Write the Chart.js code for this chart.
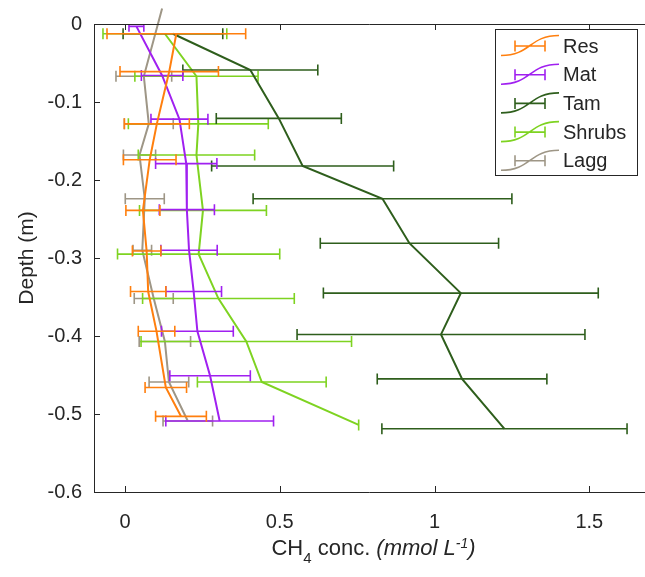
<!DOCTYPE html>
<html>
<head>
<meta charset="utf-8">
<script src="https://cdn.jsdelivr.net/npm/chart.js@4.4.0/dist/chart.umd.min.js"></script>
<style>
  body { margin: 0; background: #fff; }
  #wrap { width: 645px; height: 577px; }
</style>
</head>
<body>
<div id="wrap"><canvas id="ch4Chart" width="645" height="577"></canvas></div>
<script>
// tick labels
var xTicks = [0, 0.5, 1, 1.5];
var yTicks = [0, -0.1, -0.2, -0.3, -0.4, -0.5, -0.6];

var seriesNames = ['Res', 'Mat', 'Tam', 'Shrubs', 'Lagg'];
var seriesColors = ['#ff7f0e', '#a020f0', '#2e5e1c', '#7ed321', '#9e9686'];

// depth (m), mean conc. and error half-width
var resDepth = [-0.0125, -0.061, -0.128, -0.174, -0.239, -0.291, -0.343, -0.394, -0.466, -0.503];
var resConc  = [0.166, 0.143, 0.103, 0.080, 0.058, 0.070, 0.075, 0.102, 0.132, 0.181];
var resErr   = [0.224, 0.159, 0.105, 0.085, 0.055, 0.046, 0.057, 0.059, 0.067, 0.082];

var matDepth = [-0.003, -0.066, -0.122, -0.179, -0.238, -0.290, -0.343, -0.394, -0.451, -0.509];
var matConc  = [0.037, 0.120, 0.176, 0.198, 0.200, 0.207, 0.222, 0.234, 0.275, 0.306];
var matErr   = [0.024, 0.067, 0.092, 0.099, 0.089, 0.091, 0.090, 0.116, 0.130, 0.174];

var tamDepth = [-0.0125, -0.059, -0.121, -0.182, -0.224, -0.281, -0.345, -0.398, -0.455, -0.519];
var tamConc  = [0.155, 0.405, 0.497, 0.574, 0.832, 0.919, 1.085, 1.021, 1.089, 1.226];
var tamErr   = [0.161, 0.218, 0.202, 0.294, 0.418, 0.288, 0.444, 0.465, 0.274, 0.396];

var shrubsDepth = [-0.0125, -0.067, -0.128, -0.168, -0.239, -0.295, -0.352, -0.407, -0.459, -0.514];
var shrubsConc  = [0.129, 0.231, 0.237, 0.231, 0.252, 0.238, 0.302, 0.392, 0.442, 0.755];
var shrubsErr   = [0.200, 0.199, 0.226, 0.188, 0.205, 0.262, 0.245, 0.340, 0.208, 0];

var laggDepth = [0.02, -0.067, -0.128, -0.168, -0.224, -0.290, -0.352, -0.407, -0.459, -0.509];
var laggConc  = [0.120, 0.061, 0.077, 0.047, 0.064, 0.056, 0.093, 0.129, 0.142, 0.203];
var laggErr   = [0.05, 0.090, 0.079, 0.052, 0.063, 0.030, 0.063, 0.083, 0.064, 0.080];

var allDepth = [resDepth, matDepth, tamDepth, shrubsDepth, laggDepth];
var allConc = [resConc, matConc, tamConc, shrubsConc, laggConc];
var allErr = [resErr, matErr, tamErr, shrubsErr, laggErr];

var axisColor = '#262626';
var fontFam = '"Liberation Sans", Arial, Helvetica, sans-serif';

function makeDataset(i) {
    return {
        label: seriesNames[i],
        data: allConc[i].map(function(c, k) { return { x: c, y: allDepth[i][k] }; }),
        errors: allErr[i],
        borderColor: seriesColors[i],
        backgroundColor: seriesColors[i],
        borderWidth: 2,
        pointRadius: 0,
        showLine: true,
        tension: 0,
        clip: false
    };
}

// horizontal error bars, drawn with each series so the layering matches
var errorBars = {
    id: 'errorBars',
    afterDatasetDraw: function(chart, args) {
        var ds = chart.data.datasets[args.index];
        var xs = chart.scales.x, ys = chart.scales.y, a = chart.chartArea;
        var ctx = chart.ctx;
        ctx.save();
        ctx.beginPath();
        ctx.rect(a.left, a.top, a.right - a.left, a.bottom - a.top);
        ctx.clip();
        ctx.strokeStyle = ds.borderColor;
        ctx.lineWidth = 1.6;
        ctx.beginPath();
        ds.data.forEach(function(p, k) {
            var e = ds.errors[k];
            var py = ys.getPixelForValue(p.y);
            var x1 = xs.getPixelForValue(p.x - e);
            var x2 = xs.getPixelForValue(p.x + e);
            ctx.moveTo(x1, py); ctx.lineTo(x2, py);
            ctx.moveTo(x1, py - 5.5); ctx.lineTo(x1, py + 5.5);
            ctx.moveTo(x2, py - 5.5); ctx.lineTo(x2, py + 5.5);
        });
        ctx.stroke();
        ctx.restore();
    }
};

// box around the axes with inward ticks, x label, legend
var decorations = {
    id: 'decorations',
    afterDraw: function(chart) {
        var ctx = chart.ctx, a = chart.chartArea;
        var xs = chart.scales.x, ys = chart.scales.y;
        ctx.save();
        ctx.strokeStyle = axisColor;
        ctx.lineWidth = 1;
        ctx.beginPath();
        ctx.moveTo(a.left + 0.5, a.top + 0.5);
        ctx.lineTo(a.right, a.top + 0.5);
        ctx.moveTo(a.left + 0.5, a.top);
        ctx.lineTo(a.left + 0.5, a.bottom + 0.5);
        ctx.lineTo(a.right, a.bottom + 0.5);
        xs.ticks.forEach(function(t) {
            var px = Math.round(xs.getPixelForValue(t.value)) + 0.5;
            ctx.moveTo(px, a.bottom); ctx.lineTo(px, a.bottom - 6);
            ctx.moveTo(px, a.top); ctx.lineTo(px, a.top + 6);
        });
        ys.ticks.forEach(function(t) {
            var py = Math.round(ys.getPixelForValue(t.value)) + 0.5;
            ctx.moveTo(a.left, py); ctx.lineTo(a.left + 6, py);
        });
        ctx.stroke();

        // x axis label: CH4 conc. (mmol L-1)
        var parts = [
            { t: 'CH', f: '22px ' + fontFam, dy: 0 },
            { t: '4', f: '15px ' + fontFam, dy: 8 },
            { t: ' conc. ', f: '22px ' + fontFam, dy: 0 },
            { t: '(mmol L', f: 'italic 22px ' + fontFam, dy: 0 },
            { t: '-1', f: 'italic 14px ' + fontFam, dy: -7 },
            { t: ')', f: 'italic 22px ' + fontFam, dy: 0 }
        ];
        var total = 0;
        parts.forEach(function(p) { ctx.font = p.f; p.w = ctx.measureText(p.t).width; total += p.w; });
        var cx = (a.left + a.right) / 2 + 4;
        var tx = cx - total / 2, base = 555;
        ctx.fillStyle = axisColor;
        ctx.textBaseline = 'alphabetic';
        ctx.textAlign = 'left';
        parts.forEach(function(p) {
            ctx.font = p.f;
            ctx.fillText(p.t, tx, base + p.dy);
            tx += p.w;
        });

        // legend
        var lx = 495.5, ly = 29.5, lw = 142, lh = 146;
        ctx.fillStyle = '#fff';
        ctx.fillRect(lx, ly, lw, lh);
        ctx.strokeStyle = axisColor;
        ctx.lineWidth = 1;
        ctx.strokeRect(lx, ly, lw, lh);
        chart.data.datasets.forEach(function(ds, i) {
            var yc = 47 + i * 28.7;
            ctx.strokeStyle = ds.borderColor;
            ctx.lineWidth = 1.6;
            ctx.beginPath();
            ctx.moveTo(501, yc + 8.5);
            ctx.bezierCurveTo(531, yc + 8.5, 529, yc - 11.5, 559, yc - 11.5);
            ctx.moveTo(515, yc - 1); ctx.lineTo(545, yc - 1);
            ctx.moveTo(515, yc - 6.5); ctx.lineTo(515, yc + 4.5);
            ctx.moveTo(545, yc - 6.5); ctx.lineTo(545, yc + 4.5);
            ctx.stroke();
            ctx.fillStyle = axisColor;
            ctx.font = '20px ' + fontFam;
            ctx.textBaseline = 'middle';
            ctx.fillText(ds.label, 563, yc);
        });
        ctx.restore();
    }
};

var ctx = document.getElementById('ch4Chart').getContext('2d');
var chart = new Chart(ctx, {
    type: 'scatter',
    data: {
        datasets: [0, 1, 2, 3, 4].map(makeDataset)
    },
    options: {
        responsive: false,
        animation: false,
        devicePixelRatio: 1,
        layout: { padding: { top: 13, right: 0, bottom: 0, left: 0 } },
        plugins: {
            legend: { display: false },
            tooltip: { enabled: false }
        },
        scales: {
            x: {
                type: 'linear',
                min: -0.1,
                max: 1.68,
                afterBuildTicks: function(s) { s.ticks = xTicks.map(function(v) { return { value: v }; }); },
                afterFit: function(s) { s.height = 85; },
                grid: { display: false, drawTicks: false },
                border: { display: false },
                ticks: {
                    color: axisColor,
                    padding: 18,
                    autoSkip: false,
                    maxRotation: 0,
                    font: { family: fontFam, size: 20 },
                    callback: function(v) { return String(v); }
                }
            },
            y: {
                type: 'linear',
                min: -0.6,
                max: 0,
                afterBuildTicks: function(s) { s.ticks = yTicks.map(function(v) { return { value: v }; }); },
                afterFit: function(s) { s.width = 94; },
                grid: { display: false, drawTicks: false },
                border: { display: false },
                ticks: {
                    color: axisColor,
                    padding: 12,
                    autoSkip: false,
                    font: { family: fontFam, size: 20 },
                    callback: function(v) { return String(v); }
                },
                title: {
                    display: true,
                    text: 'Depth (m)',
                    color: axisColor,
                    font: { family: fontFam, size: 21 },
                    padding: { top: 15, bottom: 0 }
                }
            }
        }
    },
    plugins: [errorBars, decorations]
});
</script>
</body>
</html>
